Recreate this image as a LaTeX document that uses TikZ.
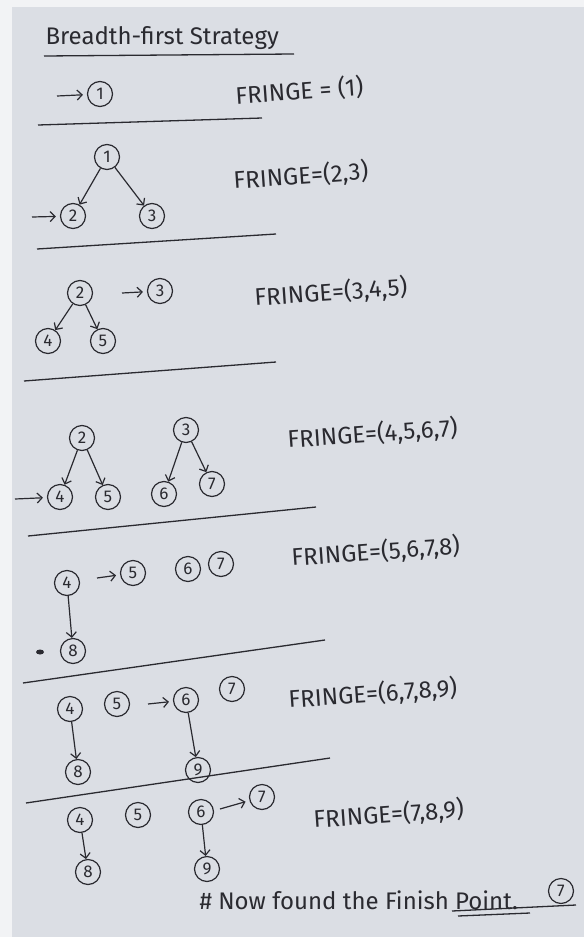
\documentclass[tikz,border=0pt]{standalone}
\usepackage{fontspec}
\setmainfont{Fira Sans}
\usepackage{tikz}
\usetikzlibrary{arrows.meta}

\definecolor{paper}{RGB}{219,222,228}
\definecolor{margin}{RGB}{242,243,245}
\definecolor{ink}{RGB}{42,42,48}

\begin{document}
\begin{tikzpicture}[
  x=1pt, y=-1pt,
  state/.style={draw=ink, circle, line width=1.2pt, inner sep=0pt, minimum size=25pt, text=ink, font=\fontsize{17}{17}\selectfont},
  fringe/.style={anchor=west, rotate=4, text=ink, font=\fontsize{24}{24}\selectfont},
  note/.style={anchor=west, text=ink, font=\fontsize{24}{24}\selectfont},
  arrow/.style={draw=ink, line width=1.2pt, -{Straight Barb[length=5pt,width=10pt]}},
  pointer/.style={arrow, shorten >=4pt},
  rule/.style={draw=ink, line width=1.3pt}
]
\fill[margin] (0,0) rectangle (584,937);
\fill[paper] (12,7) rectangle (584,937);

\node[note] (title) at (42,38) {Breadth-first Strategy};
\draw[rule] (44,56) -- (294,54);

\node[state] (a1) at (100,94) {1};
\coordinate (a0) at (57,96);
\draw[pointer] (a0) -- (a1);
\node[fringe] (s1) at (232,96) {FRINGE = (1)};
\draw[rule] (38,125) -- (262,118);

\node[state] (b1) at (107,157) {1};
\node[state] (b2) at (73,216) {2};
\node[state] (b3) at (152,216) {3};
\coordinate (b0) at (32,217);
\draw[arrow] (b1) -- (b2);
\draw[arrow] (b1) -- (b3);
\draw[pointer] (b0) -- (b2);
\node[fringe] (s2) at (230,181) {FRINGE=(2,3)};
\draw[rule] (37,249) -- (276,234);

\node[state] (c2) at (80,293) {2};
\node[state] (c3) at (160,291) {3};
\node[state] (c4) at (48,341) {4};
\node[state] (c5) at (103,341) {5};
\coordinate (c0) at (122,293);
\draw[arrow] (c2) -- (c4);
\draw[arrow] (c2) -- (c5);
\draw[pointer] (c0) -- (c3);
\node[fringe] (s3) at (251,298) {FRINGE=(3,4,5)};
\draw[rule] (24,381) -- (276,362);

\node[state] (d2) at (82,438) {2};
\node[state] (d3) at (186,430) {3};
\node[state] (d4) at (60,497) {4};
\node[state] (d5) at (108,497) {5};
\node[state] (d6) at (164,494) {6};
\node[state] (d7) at (212,484) {7};
\coordinate (d0) at (15,499);
\draw[arrow] (d2) -- (d4);
\draw[arrow] (d2) -- (d5);
\draw[arrow] (d3) -- (d6);
\draw[arrow] (d3) -- (d7);
\draw[pointer] (d0) -- (d4);
\node[fringe] (s4) at (284,440) {FRINGE=(4,5,6,7)};
\draw[rule] (28,536) -- (316,507);

\node[state] (e4) at (67,583) {4};
\node[state] (e5) at (133,573) {5};
\node[state] (e6) at (188,569) {6};
\node[state] (e7) at (221,564) {7};
\node[state] (e8) at (73,651) {8};
\coordinate (e0) at (97,578);
\draw[arrow] (e4) -- (e8);
\draw[pointer] (e0) -- (e5);
\fill[ink] (40,652) ellipse (4 and 2.5);
\node[fringe] (s5) at (288,558) {FRINGE=(5,6,7,8)};
\draw[rule] (23,683) -- (325,640);

\node[state] (f4) at (70,709) {4};
\node[state] (f5) at (117,704) {5};
\node[state] (f6) at (186,700) {6};
\node[state] (f7) at (232,689) {7};
\node[state] (f8) at (78,772) {8};
\node[state] (f9) at (198,770) {9};
\coordinate (f0) at (148,704);
\draw[arrow] (f4) -- (f8);
\draw[arrow] (f6) -- (f9);
\draw[pointer] (f0) -- (f6);
\node[fringe] (s6) at (285,700) {FRINGE=(6,7,8,9)};
\draw[rule] (26,803) -- (330,758);

\node[state] (g4) at (80,820) {4};
\node[state] (g5) at (138,815) {5};
\node[state] (g6) at (201,812) {6};
\node[state] (g7) at (262,797) {7};
\node[state] (g8) at (88,872) {8};
\node[state] (g9) at (207,869) {9};
\coordinate (g0) at (220,809);
\draw[arrow] (g4) -- (g8);
\draw[arrow] (g6) -- (g9);
\draw[pointer] (g0) -- (g7);
\node[fringe] (s7) at (310,820) {FRINGE=(7,8,9)};

\node[note] (finish) at (196,900) {\# Now found the Finish Point.};
\node[state] (goal) at (561,891) {7};
\draw[rule] (452,911) -- (576,905);
\draw[rule] (458,916) -- (530,913);
\end{tikzpicture}
\end{document}
